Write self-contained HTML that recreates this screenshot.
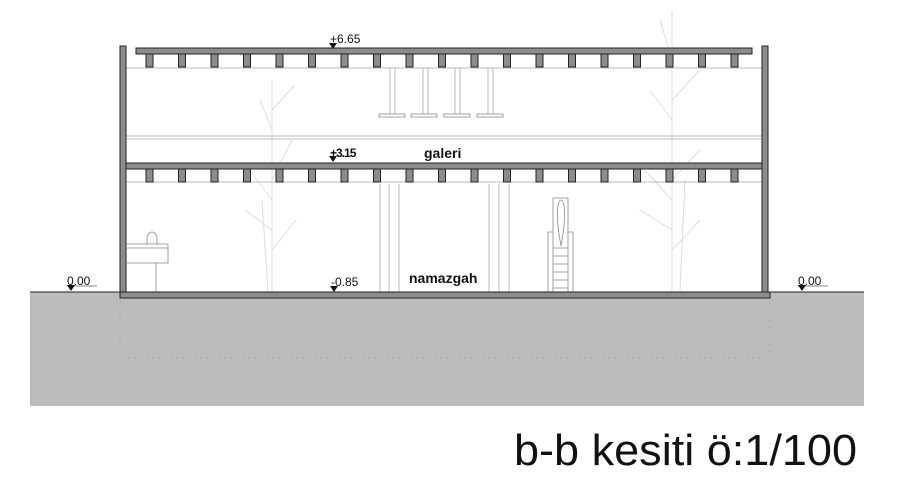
<!DOCTYPE html>
<html><head><style>body{margin:0;background:#fff}svg{display:block}</style></head><body>
<svg width="900" height="489" viewBox="0 0 900 489" xmlns="http://www.w3.org/2000/svg" font-family="Liberation Sans, sans-serif">
<rect x="30" y="292" width="834" height="114" fill="#bcbcbc"/>
<line x1="30" y1="292" x2="864" y2="292" stroke="#222" stroke-width="1"/>
<rect x="120" y="298" width="650" height="60" fill="none" stroke="#999" stroke-width="1" stroke-dasharray="1 5"/>
<g stroke="#ddd" stroke-width="1" fill="none">
<path d="M272 292 L272 80 M272 200 L250 170 M272 230 L245 210 M272 180 L292 140 M272 250 L296 220 M272 130 L260 100 M272 110 L295 85 M268 292 L262 200"/>
<path d="M672 292 L672 10 M672 200 L645 170 M672 230 L640 210 M672 180 L700 150 M672 250 L700 220 M672 120 L650 90 M672 100 L700 70 M672 60 L660 20 M680 290 L685 180"/>
</g>
<line x1="126" y1="68" x2="762" y2="68" stroke="#bbb"/>
<line x1="126" y1="136" x2="762" y2="136" stroke="#bbb"/>
<line x1="126" y1="139" x2="762" y2="139" stroke="#bbb"/>
<line x1="126" y1="182" x2="762" y2="182" stroke="#bbb"/>
<g stroke="#bbb" fill="none">
<line x1="380" y1="184" x2="380" y2="292"/><line x1="389" y1="184" x2="389" y2="292"/><line x1="399" y1="184" x2="399" y2="292"/>
<line x1="489" y1="184" x2="489" y2="292"/><line x1="499" y1="184" x2="499" y2="292"/><line x1="509" y1="184" x2="509" y2="292"/>
<line x1="390" y1="68" x2="390" y2="114"/><line x1="395" y1="68" x2="395" y2="114"/>
<line x1="423" y1="68" x2="423" y2="114"/><line x1="428" y1="68" x2="428" y2="114"/>
<line x1="455" y1="68" x2="455" y2="114"/><line x1="460" y1="68" x2="460" y2="114"/>
<line x1="488" y1="68" x2="488" y2="114"/><line x1="493" y1="68" x2="493" y2="114"/>
</g>
<g stroke="#888" fill="none" stroke-width="0.8">
<rect x="379" y="114" width="26" height="3"/><rect x="411" y="114" width="26" height="3"/><rect x="444" y="114" width="26" height="3"/><rect x="477" y="114" width="26" height="3"/>
<path d="M127 244 L168 244 L168 263 L127 263 M127 248 L168 248 M156 263 L156 292 M147 244 L147 236 Q152 228 157 236 L157 244"/>
<path d="M548 292 L548 232 L553 232 L553 292 M573 292 L573 232 L568 232 L568 292 M553 248 L568 248 M553 256 L568 256 M553 264 L568 264 M553 272 L568 272 M553 280 L568 280 M553 288 L568 288 M553 245 L553 198 L568 198 L568 245 M561 246 Q556 220 558 205 Q561 195 564 205 Q566 220 561 246"/>
</g>
<g fill="#8c8c8c" stroke="#222" stroke-width="1">
<rect x="120" y="46" width="6" height="251"/>
<rect x="762" y="46" width="6" height="251"/>
<rect x="120" y="292" width="650" height="6"/>
<rect x="136" y="48" width="616" height="6"/>
<rect x="126" y="163" width="636" height="6"/>
</g>
<g fill="#8c8c8c" stroke="#222" stroke-width="1">
<rect x="146" y="54" width="7" height="13"/><rect x="178.5" y="54" width="7" height="13"/><rect x="211" y="54" width="7" height="13"/><rect x="243.5" y="54" width="7" height="13"/><rect x="276" y="54" width="7" height="13"/><rect x="308.5" y="54" width="7" height="13"/><rect x="341" y="54" width="7" height="13"/><rect x="373.5" y="54" width="7" height="13"/><rect x="406" y="54" width="7" height="13"/><rect x="438.5" y="54" width="7" height="13"/><rect x="471" y="54" width="7" height="13"/><rect x="503.5" y="54" width="7" height="13"/><rect x="536" y="54" width="7" height="13"/><rect x="568.5" y="54" width="7" height="13"/><rect x="601" y="54" width="7" height="13"/><rect x="633.5" y="54" width="7" height="13"/><rect x="666" y="54" width="7" height="13"/><rect x="698.5" y="54" width="7" height="13"/><rect x="731" y="54" width="7" height="13"/>
<rect x="146" y="169" width="7" height="13"/><rect x="178.5" y="169" width="7" height="13"/><rect x="211" y="169" width="7" height="13"/><rect x="243.5" y="169" width="7" height="13"/><rect x="276" y="169" width="7" height="13"/><rect x="308.5" y="169" width="7" height="13"/><rect x="341" y="169" width="7" height="13"/><rect x="373.5" y="169" width="7" height="13"/><rect x="406" y="169" width="7" height="13"/><rect x="438.5" y="169" width="7" height="13"/><rect x="471" y="169" width="7" height="13"/><rect x="503.5" y="169" width="7" height="13"/><rect x="536" y="169" width="7" height="13"/><rect x="568.5" y="169" width="7" height="13"/><rect x="601" y="169" width="7" height="13"/><rect x="633.5" y="169" width="7" height="13"/><rect x="666" y="169" width="7" height="13"/><rect x="698.5" y="169" width="7" height="13"/><rect x="731" y="169" width="7" height="13"/>
</g>
<g fill="#111" font-size="12">
<path d="M329 43 L337 43 L333 49 Z"/><text x="330" y="43">+6.65</text>
<path d="M329 156 L337 156 L333 162 Z"/><text x="330" y="157" font-weight="bold" letter-spacing="-1">+3.15</text>
<path d="M330 286 L338 286 L334 292 Z"/><text x="331" y="286">-0.85</text>
<path d="M67 285 L75 285 L71 291 Z"/><text x="67" y="285">0.00</text><line x1="67" y1="286" x2="97" y2="286" stroke="#111" stroke-width="0.6"/>
<path d="M798 285 L806 285 L802 291 Z"/><text x="798" y="285">0.00</text><line x1="798" y1="286" x2="828" y2="286" stroke="#111" stroke-width="0.6"/>
<text x="424" y="158" font-size="14" font-weight="bold">galeri</text>
<text x="409" y="283" font-size="14" font-weight="bold">namazgah</text>
</g>
<text x="514" y="465" font-size="44" fill="#111" textLength="343" lengthAdjust="spacingAndGlyphs">b-b kesiti ö:1/100</text>
</svg>
</body></html>
